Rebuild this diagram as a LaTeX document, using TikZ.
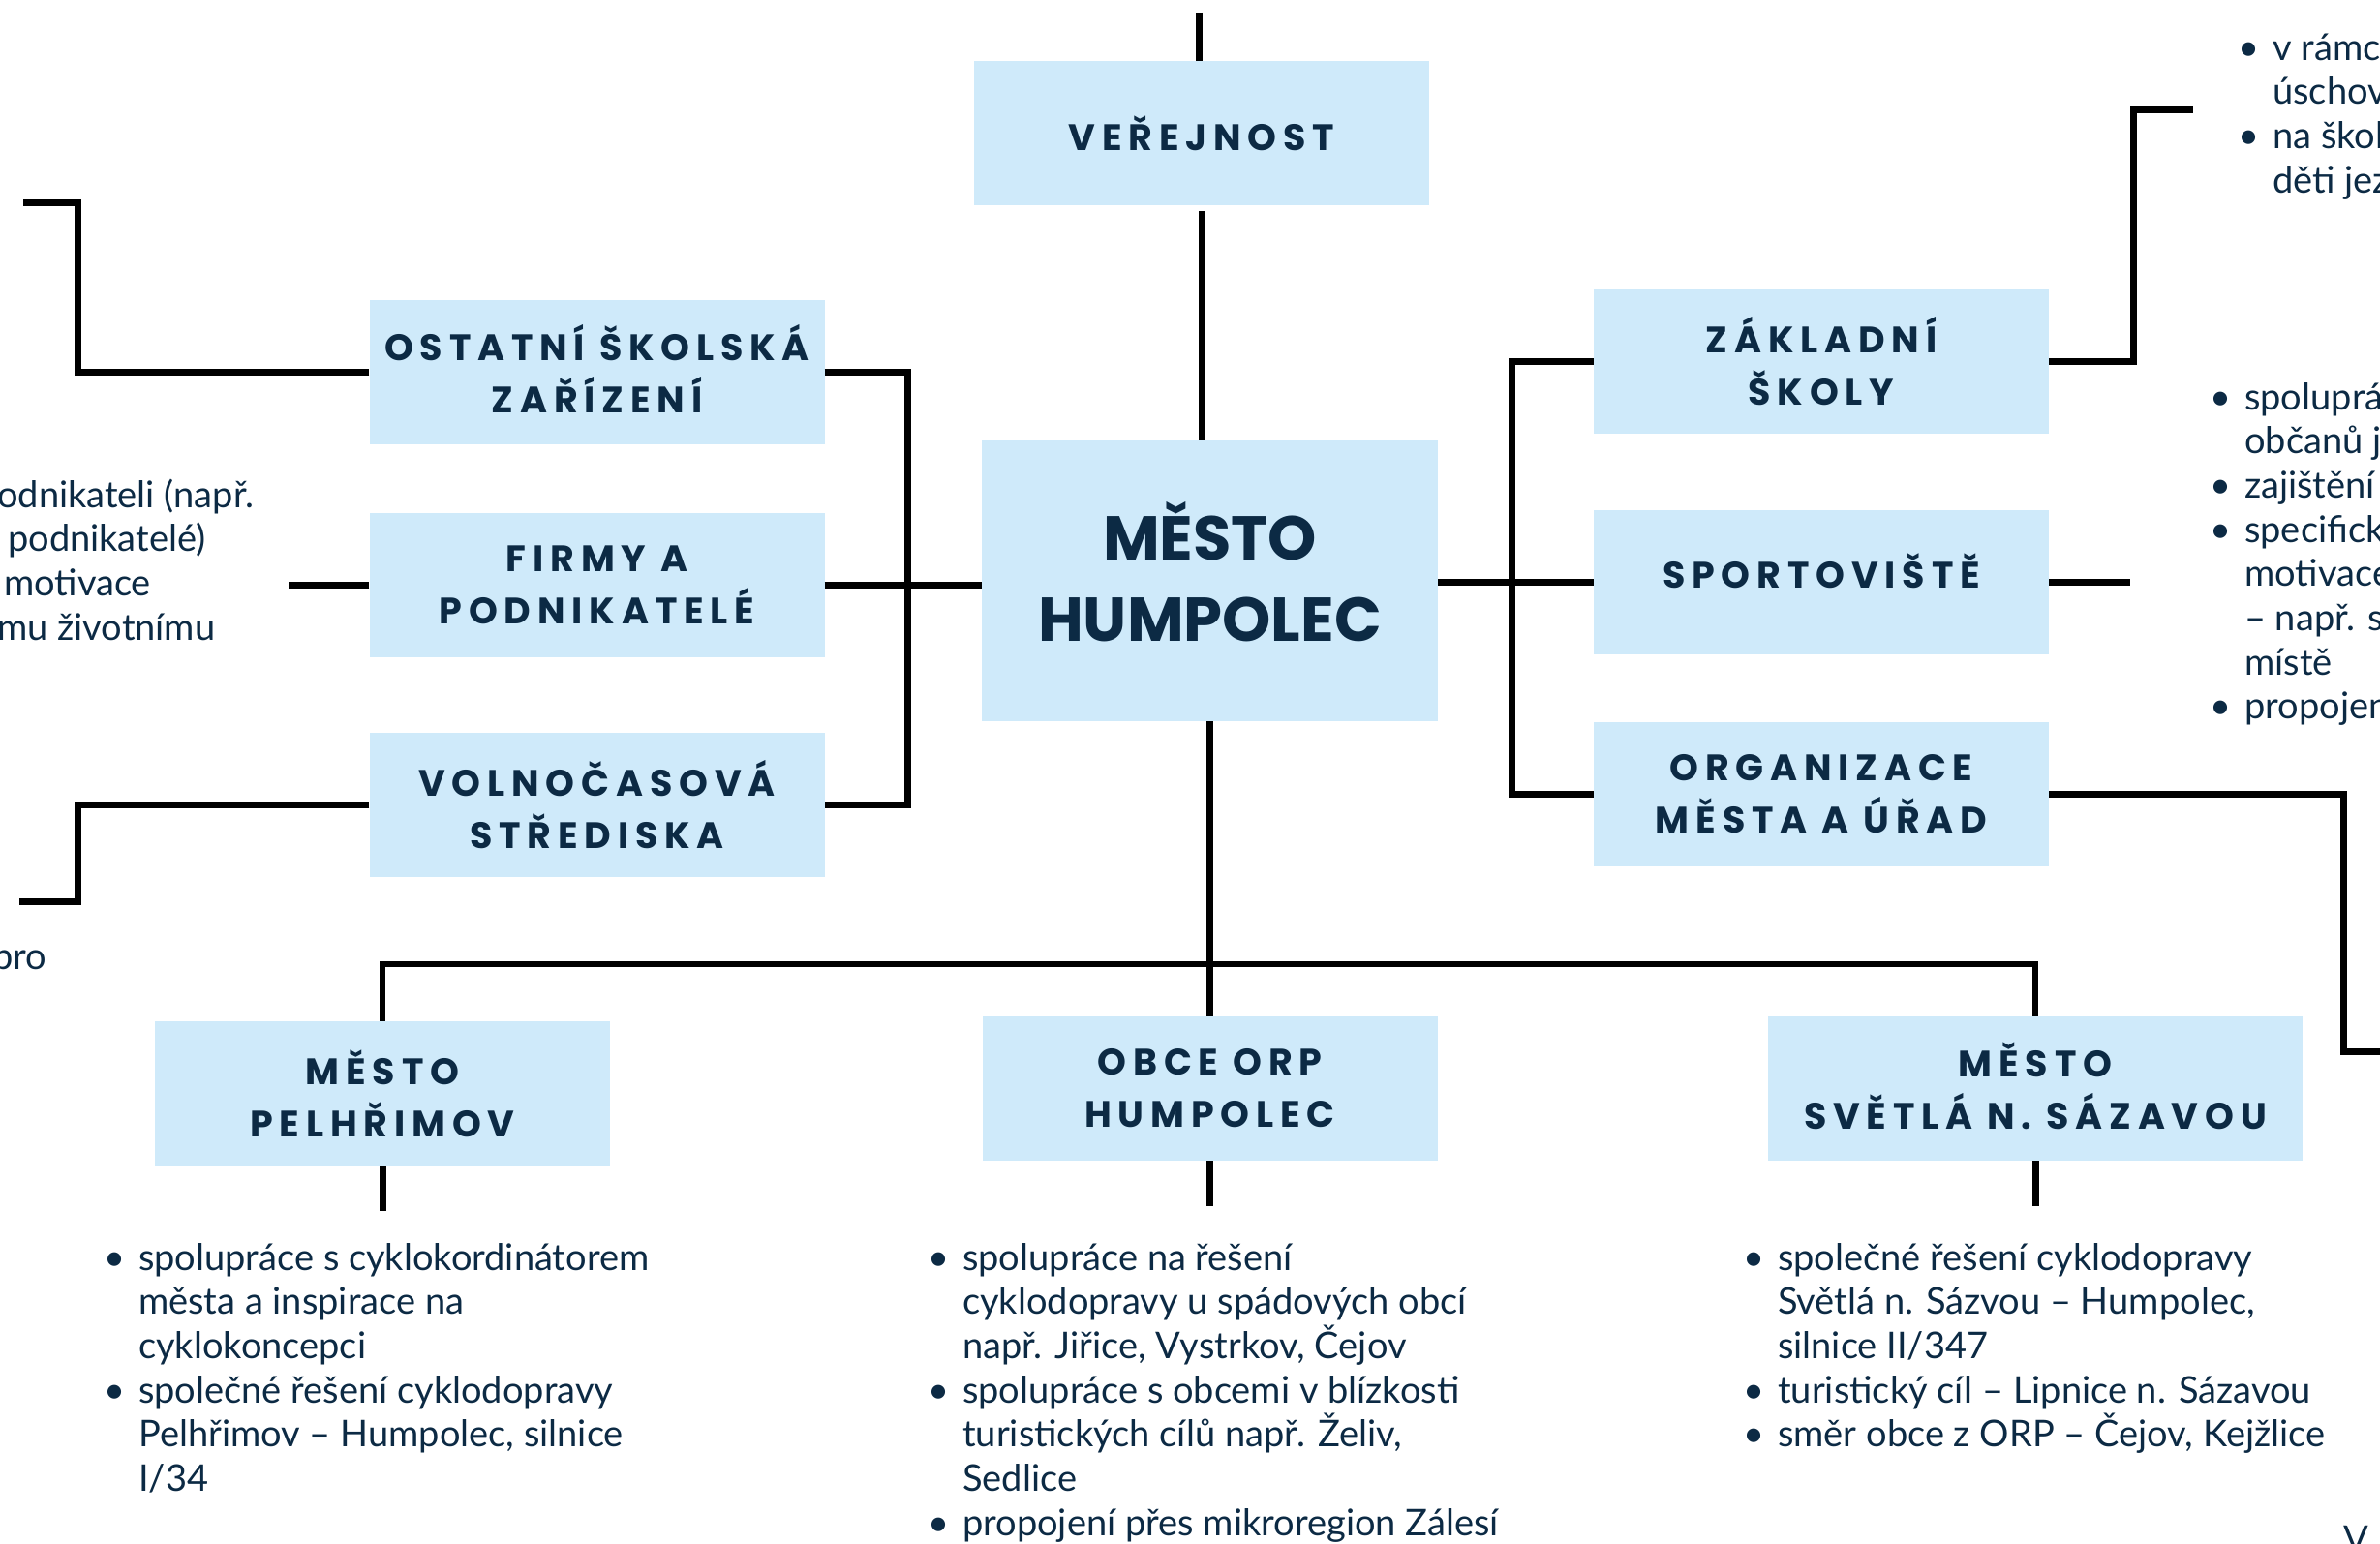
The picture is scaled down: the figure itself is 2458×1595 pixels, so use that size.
\documentclass[tikz,border=0pt]{standalone}
\usepackage{fontspec}
\usepackage{xcolor}
\usepackage{tikz}
\newfontfamily\headfont{Poppins}[LetterSpace=18]
\newfontfamily\hubfont{Poppins}
\newfontfamily\bodyfont{Lato}
\definecolor{navy}{HTML}{0C2A44}
\definecolor{boxblue}{HTML}{CFEAFA}
\newcommand\itm{\makebox[36pt][l]{•}}
\newcommand\cnt{\hspace*{36pt}}

\begin{document}
\begin{tikzpicture}[x=1pt,y=-1pt,
  box/.style={fill=boxblue, minimum width=470pt, minimum height=149pt, inner sep=0pt, align=center, text=navy, font=\headfont\bfseries\fontsize{38}{54}\selectfont},
  hubbox/.style={box, minimum width=471pt, minimum height=290pt, font=\hubfont\bfseries\fontsize{64}{84}\selectfont},
  link/.style={line width=7pt},
  note/.style={anchor=base west, align=left, inner sep=0pt, text=navy, font=\bodyfont\fontsize{38}{45.7}\selectfont}]
\clip (0,0) rectangle (2458,1595);

\node[box] (ver) at (1241,137.5) {VEŘEJNOST};
\node[hubbox] (hub) at (1249.5,600) {MĚSTO\\HUMPOLEC\rule[-20pt]{0pt}{0pt}};
\node[box] (ost) at (616.5,384.5) {OSTATNÍ ŠKOLSKÁ\\ZAŘÍZENÍ\rule[-8pt]{0pt}{0pt}};
\node[box] (fir) at (616.5,604.5) {FIRMY A\\PODNIKATELÉ};
\node[box] (vol) at (616.5,831) {VOLNOČASOVÁ\\STŘEDISKA};
\node[box] (zak) at (1881,373.5) {ZÁKLADNÍ\\ŠKOLY};
\node[box, text height=27pt, text depth=16pt] (spo) at (1881,601.5) {SPORTOVIŠTĚ};
\node[box] (org) at (1881,820.5) {ORGANIZACE\\MĚSTA A ÚŘAD};
\node[box] (pel) at (395,1129.5) {MĚSTO\\PELHŘIMOV};
\node[box] (obc) at (1249.5,1124.5) {OBCE ORP\\HUMPOLEC};
\node[box, minimum width=552pt] (sve) at (2102,1124.5) {MĚSTO\\SVĚTLÁ N. SÁZAVOU\rule[-6pt]{0pt}{0pt}};

\coordinate (verend) at (1238,13);
\coordinate (ostend) at (24,209);
\coordinate (firend) at (298,604.5);
\coordinate (volend) at (20,931);
\coordinate (zakend) at (2265,113);
\coordinate (spoend) at (2200,601.5);
\coordinate (orgend) at (2465,1086);
\coordinate (lbr) at (937,0);
\coordinate (rbr) at (1561,0);
\coordinate (bus) at (0,996);

\draw[link] (verend) -- (verend |- ver.north);
\draw[link] ([yshift=-6pt]ver.south) -- (ver.south |- hub.north);
\draw[link] (hub.south) -- (obc.north);
\draw[line width=6pt] (pel.north) -- (pel.north |- bus) -- (sve.north |- bus) -- (sve.north);
\foreach \n in {pel,obc,sve}
  \draw[link] (\n.south) -- ++(0,47);

\draw[link] (ost.east) -| (lbr |- vol.east) -- (vol.east);
\draw[link] (fir.east) -- (fir.east -| hub.west);
\draw[link] (zak.west) -| (rbr |- org.west) -- (org.west);
\draw[link] (hub.east |- spo.west) -- (spo.west);

\draw[link] (ost.west) -| ([xshift=56pt]ostend) -- (ostend);
\draw[link] (fir.west) -- (firend);
\draw[link] (vol.west) -| ([xshift=60pt]volend) -- (volend);
\draw[link] (zak.east) -| ([xshift=-62pt]zakend) -- (zakend);
\draw[link] (spo.east) -- (spoend);
\draw[link] (org.east) -| ([xshift=-45pt]orgend) -- (orgend);

\node[note] (pelnote) at (107,1540.5) {\itm spolupráce s cyklokordinátorem\\\cnt města a inspirace na\\\cnt cyklokoncepci\\\itm společné řešení cyklodopravy\\\cnt Pelhřimov – Humpolec, silnice\\\cnt I/34};
\node[note] (obcnote) at (958,1586.2) {\itm spolupráce na řešení\\\cnt cyklodopravy u spádových obcí\\\cnt např. Jiřice, Vystrkov, Čejov\\\itm spolupráce s obcemi v blízkosti\\\cnt turistických cílů např. Želiv,\\\cnt Sedlice\\\itm propojení přes mikroregion Zálesí};
\node[note] (svenote) at (1800,1494.8) {\itm společné řešení cyklodopravy\\\cnt Světlá n. Sázvou – Humpolec,\\\cnt silnice II/347\\\itm turistický cíl – Lipnice n. Sázavou\\\itm směr obce z ORP – Čejov, Kejžlice};
\node[note] (zaknote) at (2311,199.1) {\itm v rámc\\\cnt úschov\\\itm na škol\\\cnt děti jez};
\node[note] (sponote) at (2282,742.9) {\itm spoluprá\\\cnt občanů j\\\itm zajištění\\\itm specifick\\\cnt motivace\\\cnt – např. sl\\\cnt místě\\\itm propojen};
\node[note] (firnote) at (-3,661.1) {odnikateli (např.\\\hspace*{11pt}podnikatelé)\\\hspace*{7pt}motivace\\mu životnímu};
\node[note] (volnote) at (-8,1001) {pro};
\node[note] (orgnote) at (2420,1603) {V};
\end{tikzpicture}
\end{document}
